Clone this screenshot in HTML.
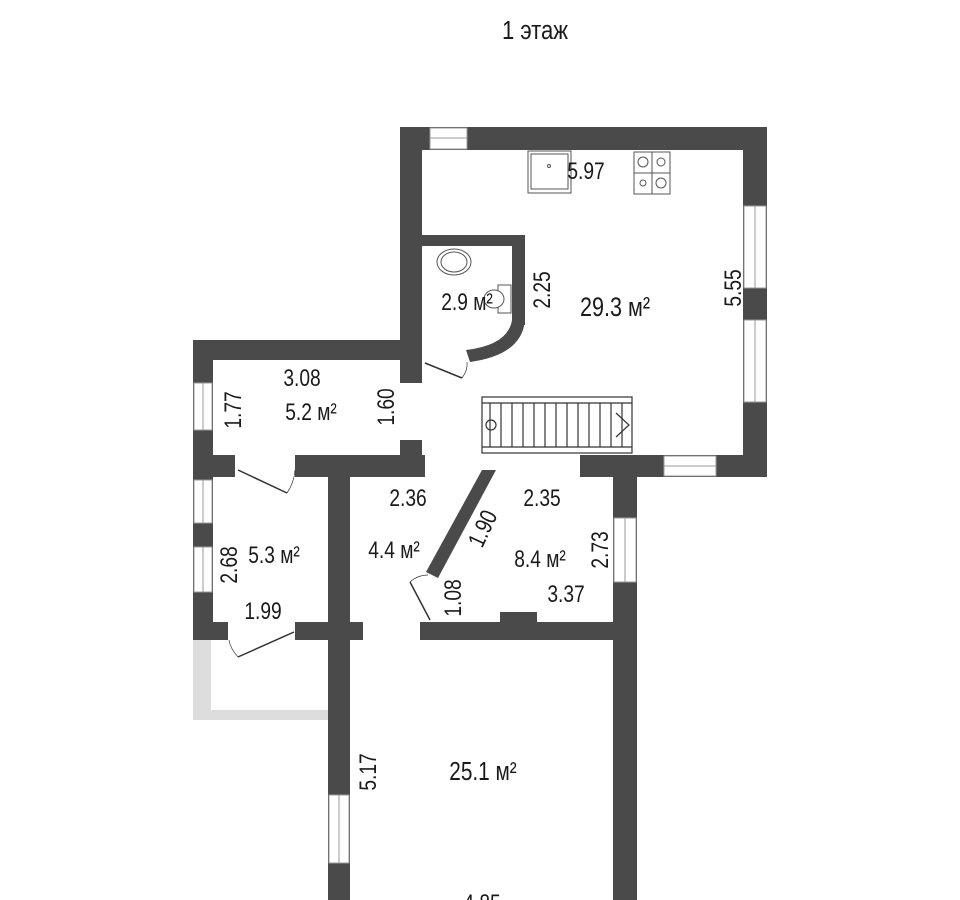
<!DOCTYPE html>
<html><head><meta charset="utf-8"><style>
body{margin:0;background:#fff;}
svg{display:block}
text{font-family:"Liberation Sans",sans-serif;fill:#1a1a1a;}
</style></head><body>
<svg width="960" height="900" viewBox="0 0 960 900" xmlns="http://www.w3.org/2000/svg">
<rect width="960" height="900" fill="#fff"/>
<text transform="translate(535,39) scale(0.85,1)" font-size="26" text-anchor="middle">1 этаж</text>
<g fill="#4a4a4a">
<rect x="400" y="127" width="367" height="23"/>
<rect x="400" y="127" width="22" height="256"/>
<rect x="743" y="127" width="24" height="350"/>
<rect x="400" y="440" width="22" height="37"/>
<rect x="580" y="455" width="187" height="22"/>
<rect x="422" y="235" width="103" height="11"/>
<rect x="512" y="235" width="13" height="90"/>
<path d="M512 320 L525 320 Q522 355 470 362 L466 350 Q508 345 512 320 Z"/>
<rect x="193" y="340" width="229" height="20"/>
<rect x="193" y="340" width="20" height="300"/>
<rect x="193" y="455" width="42" height="22"/>
<rect x="295" y="455" width="130" height="22"/>
<rect x="328" y="477" width="22" height="423"/>
<rect x="613" y="455" width="24" height="445"/>
<rect x="193" y="622" width="35" height="18"/>
<rect x="295" y="622" width="55" height="18"/>
<rect x="350" y="622" width="13" height="18"/>
<rect x="420" y="622" width="195" height="18"/>
<rect x="500" y="612" width="37" height="12"/>
<polygon points="482,470 496,470 438,578 426,572"/>
</g>
<g fill="#fff" stroke="#999" stroke-width="1">
<rect x="430" y="128" width="37" height="21"/><line x1="430" y1="138" x2="467" y2="138"/>
<rect x="744" y="206" width="22" height="82"/><line x1="755" y1="206" x2="755" y2="288"/>
<rect x="744" y="320" width="22" height="82"/><line x1="755" y1="320" x2="755" y2="402"/>
<rect x="664" y="456" width="52" height="20"/><line x1="664" y1="466" x2="716" y2="466"/>
<rect x="194" y="383" width="18" height="47"/><line x1="203" y1="383" x2="203" y2="430"/>
<rect x="194" y="480" width="18" height="43"/><line x1="203" y1="480" x2="203" y2="523"/>
<rect x="194" y="547" width="18" height="45"/><line x1="203" y1="547" x2="203" y2="592"/>
<rect x="614" y="518" width="22" height="64"/><line x1="625" y1="518" x2="625" y2="582"/>
<rect x="329" y="795" width="20" height="68"/><line x1="339" y1="795" x2="339" y2="863"/>
</g>
<path d="M193 640 H211 V710 H328 V720 H193 Z" fill="#ddd"/>
<g stroke="#333" stroke-width="1.5" fill="none">
<line x1="425" y1="363" x2="462" y2="378"/><path d="M462 378 Q468 370 467 362" stroke-width="0.7"/>
<line x1="238" y1="470" x2="287" y2="493"/><path d="M287 493 Q294 483 295 470" stroke-width="0.7"/>
<line x1="238" y1="657" x2="294" y2="632"/><path d="M238 657 Q230 648 229 640" stroke-width="0.7"/>
<line x1="410" y1="582" x2="430" y2="620"/><path d="M410 582 Q418 575 428 575" stroke-width="0.7"/>
</g>
<g stroke="#333" stroke-width="1.2" fill="none">
<rect x="482" y="397" width="150" height="56"/>
<line x1="482" y1="403" x2="632" y2="403"/><line x1="482" y1="447" x2="632" y2="447"/>
<line x1="490" y1="403" x2="490" y2="447"/><line x1="501" y1="403" x2="501" y2="447"/><line x1="512" y1="403" x2="512" y2="447"/><line x1="523" y1="403" x2="523" y2="447"/><line x1="534" y1="403" x2="534" y2="447"/><line x1="545" y1="403" x2="545" y2="447"/><line x1="556" y1="403" x2="556" y2="447"/><line x1="567" y1="403" x2="567" y2="447"/><line x1="578" y1="403" x2="578" y2="447"/><line x1="589" y1="403" x2="589" y2="447"/><line x1="600" y1="403" x2="600" y2="447"/><line x1="611" y1="403" x2="611" y2="447"/><line x1="622" y1="403" x2="622" y2="447"/>
<circle cx="491" cy="425" r="5"/>
<polyline points="616,413 629,425 616,437"/>
</g>
<g stroke="#555" stroke-width="1" fill="#fff">
<rect x="528" y="151" width="43" height="42"/><rect x="531" y="154" width="37" height="35"/><circle cx="549" cy="166" r="1.5"/>
<rect x="634" y="152" width="36" height="42"/><line x1="652" y1="152" x2="652" y2="194"/><line x1="634" y1="173" x2="670" y2="173"/>
<circle cx="643" cy="162" r="5"/><circle cx="661" cy="162" r="4"/><circle cx="643" cy="183" r="3"/><circle cx="661" cy="183" r="5"/>
<ellipse cx="454" cy="262" rx="17" ry="13"/><ellipse cx="454" cy="262" rx="13" ry="10"/>
<rect x="498" y="285" width="13" height="28"/><ellipse cx="494" cy="299" rx="10" ry="9"/>
</g>
<g font-size="24" text-anchor="middle">
<text transform="translate(586,179) scale(0.8,1)">5.97</text>
<text transform="translate(467,310) scale(0.8,1)">2.9 м²</text>
<text transform="translate(615,316) scale(0.8,1)" font-size="27">29.3 м²</text>
<text transform="translate(550,290) rotate(-90) scale(0.8,1)">2.25</text>
<text transform="translate(741,288) rotate(-90) scale(0.8,1)">5.55</text>
<text transform="translate(302,386) scale(0.8,1)">3.08</text>
<text transform="translate(311,420) scale(0.8,1)">5.2 м²</text>
<text transform="translate(241,410) rotate(-90) scale(0.8,1)">1.77</text>
<text transform="translate(394,407) rotate(-90) scale(0.8,1)">1.60</text>
<text transform="translate(408,506) scale(0.8,1)">2.36</text>
<text transform="translate(542,506) scale(0.8,1)">2.35</text>
<text transform="translate(490,532) rotate(-65) scale(0.8,1)">1.90</text>
<text transform="translate(394,558) scale(0.8,1)">4.4 м²</text>
<text transform="translate(540,567) scale(0.8,1)">8.4 м²</text>
<text transform="translate(608,550) rotate(-90) scale(0.8,1)">2.73</text>
<text transform="translate(566,602) scale(0.8,1)">3.37</text>
<text transform="translate(461,598) rotate(-90) scale(0.8,1)">1.08</text>
<text transform="translate(237,565) rotate(-90) scale(0.8,1)">2.68</text>
<text transform="translate(274,563) scale(0.8,1)">5.3 м²</text>
<text transform="translate(263,619) scale(0.8,1)">1.99</text>
<text transform="translate(376,772) rotate(-90) scale(0.8,1)">5.17</text>
<text transform="translate(483,780) scale(0.8,1)" font-size="26">25.1 м²</text>
<text transform="translate(482,911) scale(0.8,1)">4.85</text>
</g>
</svg>
</body></html>
